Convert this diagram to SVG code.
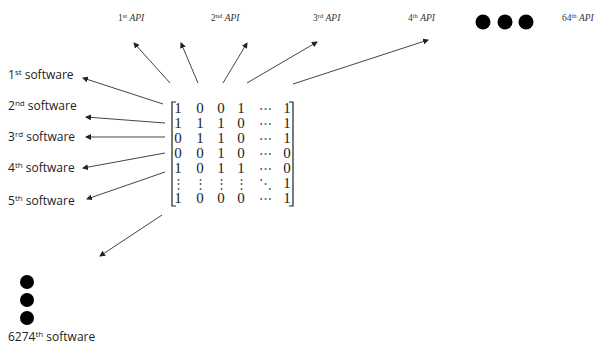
<svg xmlns="http://www.w3.org/2000/svg" width="598" height="347" viewBox="0 0 598 347">
<style>
.lbl{font-family:"Open Sans","Noto Sans","Liberation Sans",sans-serif;font-size:12px;fill:#222}
.sup{font-size:8px}
.api{font-family:"Liberation Serif","DejaVu Serif",serif;font-size:9.5px;fill:#333}
.apii{font-style:italic}
.mx{font-family:"Liberation Serif","DejaVu Serif",serif;font-size:15px;fill:#222;text-anchor:middle}
.el{fill:#555;font-size:13px}
.conn line{stroke:#444;stroke-width:1;marker-end:url(#ah)}
.dot{fill:#000}
.br{fill:none;stroke:#222;stroke-width:1.2}
</style>
<defs>
<marker id="ah" markerUnits="userSpaceOnUse" markerWidth="6" markerHeight="6" refX="5" refY="3" orient="auto">
<path d="M0,0 L6,3 L0,6 z" fill="#222"/>
</marker>
</defs>
<rect width="598" height="347" fill="#fff"/>

<g id="api1"><text class="api" x="118" y="21">1<tspan font-size="6.5" dy="-3">st</tspan><tspan dy="3"> </tspan><tspan class="apii">API</tspan></text></g>
<g id="api2"><text class="api" x="211" y="21">2<tspan font-size="6.5" dy="-3">nd</tspan><tspan dy="3"> </tspan><tspan class="apii">API</tspan></text></g>
<g id="api3"><text class="api" x="313" y="21">3<tspan font-size="6.5" dy="-3">rd</tspan><tspan dy="3"> </tspan><tspan class="apii">API</tspan></text></g>
<g id="api4"><text class="api" x="408" y="21">4<tspan font-size="6.5" dy="-3">th</tspan><tspan dy="3"> </tspan><tspan class="apii">API</tspan></text></g>
<g id="apidots"><circle class="dot" cx="483" cy="22" r="7.5"/><circle class="dot" cx="505" cy="22" r="7.5"/><circle class="dot" cx="526" cy="22" r="7.5"/></g>
<g id="api64"><text class="api" x="562" y="21">64<tspan font-size="6.5" dy="-3">th</tspan><tspan dy="3"> </tspan><tspan class="apii">API</tspan></text></g>

<g id="sw1"><text class="lbl" x="8" y="79">1<tspan class="sup" dy="-4">st</tspan><tspan dy="4"> software</tspan></text></g>
<g id="sw2"><text class="lbl" x="8" y="110">2<tspan class="sup" dy="-4">nd</tspan><tspan dy="4"> software</tspan></text></g>
<g id="sw3"><text class="lbl" x="8" y="141">3<tspan class="sup" dy="-4">rd</tspan><tspan dy="4"> software</tspan></text></g>
<g id="sw4"><text class="lbl" x="8" y="172">4<tspan class="sup" dy="-4">th</tspan><tspan dy="4"> software</tspan></text></g>
<g id="sw5"><text class="lbl" x="8" y="205">5<tspan class="sup" dy="-4">th</tspan><tspan dy="4"> software</tspan></text></g>
<g id="swdots"><circle class="dot" cx="27" cy="282" r="7"/><circle class="dot" cx="27" cy="300" r="7"/><circle class="dot" cx="27" cy="318" r="7"/></g>
<g id="sw6274"><text class="lbl" x="8" y="341">6274<tspan class="sup" dy="-4">th</tspan><tspan dy="4"> software</tspan></text></g>

<g id="matrix">
<path class="br" d="M176,102 H172 V206 H176"/>
<path class="br" d="M289,102 H293 V206 H289"/>
<g class="mx">
<text y="113"><tspan x="178">1</tspan><tspan x="200">0</tspan><tspan x="221">0</tspan><tspan x="241">1</tspan><tspan class="el" x="265">⋯</tspan><tspan x="287">1</tspan></text>
<text y="128"><tspan x="178">1</tspan><tspan x="200">1</tspan><tspan x="221">1</tspan><tspan x="241">0</tspan><tspan class="el" x="265">⋯</tspan><tspan x="287">1</tspan></text>
<text y="143"><tspan x="178">0</tspan><tspan x="200">1</tspan><tspan x="221">1</tspan><tspan x="241">0</tspan><tspan class="el" x="265">⋯</tspan><tspan x="287">1</tspan></text>
<text y="158"><tspan x="178">0</tspan><tspan x="200">0</tspan><tspan x="221">1</tspan><tspan x="241">0</tspan><tspan class="el" x="265">⋯</tspan><tspan x="287">0</tspan></text>
<text y="173"><tspan x="178">1</tspan><tspan x="200">0</tspan><tspan x="221">1</tspan><tspan x="241">1</tspan><tspan class="el" x="265">⋯</tspan><tspan x="287">0</tspan></text>
<text y="188"><tspan class="el" x="178">⋮</tspan><tspan class="el" x="200">⋮</tspan><tspan class="el" x="221">⋮</tspan><tspan class="el" x="241">⋮</tspan><tspan class="el" x="265">⋱</tspan><tspan x="287">1</tspan></text>
<text y="203"><tspan x="178">1</tspan><tspan x="200">0</tspan><tspan x="221">0</tspan><tspan x="241">0</tspan><tspan class="el" x="265">⋯</tspan><tspan x="287">1</tspan></text>
</g>
</g>

<g id="connectors" class="conn">
<line x1="170" y1="83" x2="134" y2="43"/>
<line x1="198" y1="83" x2="181" y2="43"/>
<line x1="223" y1="83" x2="247" y2="43"/>
<line x1="247" y1="83" x2="317" y2="42"/>
<line x1="293" y1="84" x2="428" y2="40"/>
<line x1="163" y1="104" x2="83" y2="78"/>
<line x1="165" y1="123" x2="86" y2="117"/>
<line x1="165" y1="137" x2="86" y2="137"/>
<line x1="165" y1="153" x2="83" y2="168"/>
<line x1="165" y1="172" x2="87" y2="199"/>
<line x1="162" y1="215" x2="100" y2="256"/>
</g>
</svg>
